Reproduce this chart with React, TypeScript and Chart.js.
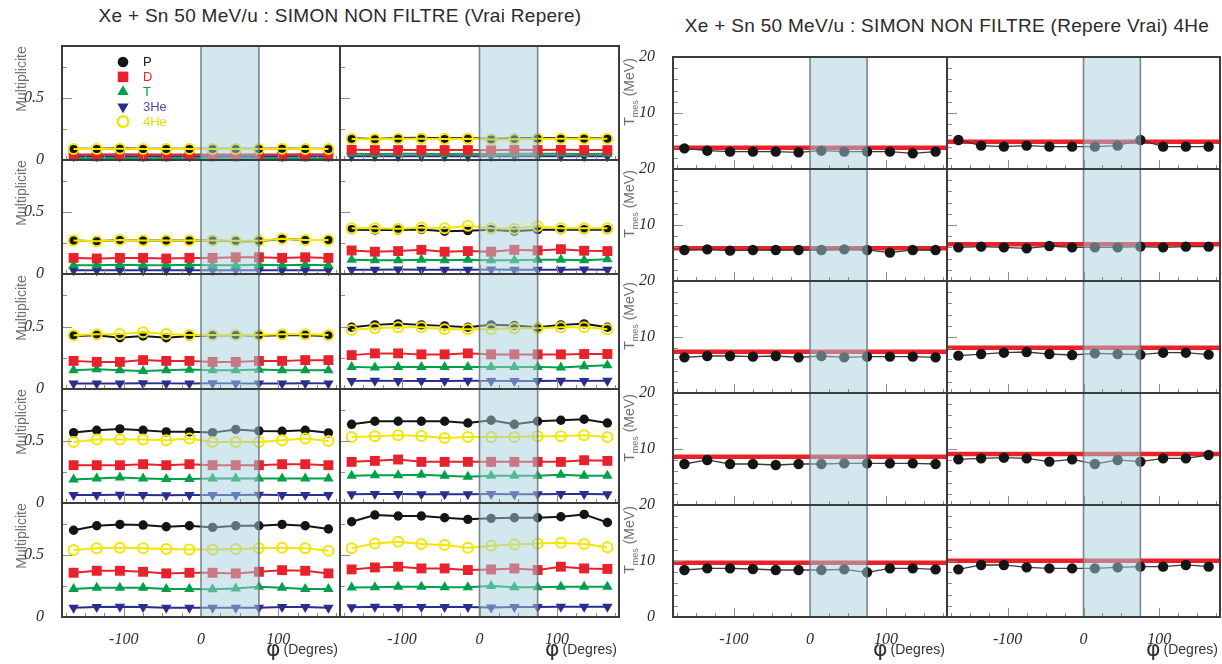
import React, { useEffect, useRef } from "react";
import { Chart, registerables } from "chart.js";
Chart.register(...registerables);

// ---------- data ----------
const PHI = [-165, -135, -105, -75, -45, -15, 15, 45, 75, 105, 135, 165];
const BAND = [0, 75];
const X_TICK_VALUES = [-175, -150, -125, -100, -75, -50, -25, 0, 25, 50, 75, 100, 125, 150, 175];
const X_MAJOR = [-100, 0, 100];
const MULT_Y_TICKS = [0.25, 0.5, 0.75];
const TEMP_Y_TICKS = [2, 4, 6, 8, 10, 12, 14, 16, 18];

const SPECIES = ["P", "D", "T", "3He", "4He"];

// Multiplicities (rows top -> bottom), left column ("A") and right column ("B")
const MULT_P_A = [
  [0.09, 0.09, 0.095, 0.09, 0.09, 0.09, 0.09, 0.09, 0.09, 0.092, 0.09, 0.09],
  [0.27, 0.265, 0.275, 0.27, 0.27, 0.27, 0.27, 0.265, 0.265, 0.285, 0.275, 0.275],
  [0.424, 0.43, 0.41, 0.424, 0.41, 0.424, 0.427, 0.432, 0.427, 0.43, 0.43, 0.424],
  [0.568, 0.587, 0.598, 0.587, 0.574, 0.574, 0.568, 0.593, 0.582, 0.579, 0.587, 0.566],
  [0.7, 0.736, 0.747, 0.742, 0.728, 0.736, 0.723, 0.736, 0.736, 0.747, 0.736, 0.71],
];
const MULT_P_B = [
  [0.175, 0.17, 0.177, 0.18, 0.175, 0.178, 0.17, 0.175, 0.177, 0.177, 0.175, 0.175],
  [0.358, 0.355, 0.355, 0.36, 0.345, 0.35, 0.358, 0.345, 0.358, 0.358, 0.358, 0.358],
  [0.494, 0.513, 0.521, 0.513, 0.505, 0.494, 0.513, 0.508, 0.494, 0.513, 0.521, 0.494],
  [0.635, 0.66, 0.66, 0.66, 0.66, 0.646, 0.668, 0.635, 0.66, 0.668, 0.676, 0.646],
  [0.769, 0.823, 0.815, 0.815, 0.801, 0.788, 0.796, 0.801, 0.801, 0.809, 0.828, 0.763],
];
const MULT_D_A = [
  [0.045, 0.045, 0.046, 0.045, 0.045, 0.045, 0.044, 0.045, 0.045, 0.045, 0.046, 0.045],
  [0.13, 0.125, 0.13, 0.13, 0.125, 0.13, 0.13, 0.135, 0.135, 0.13, 0.135, 0.13],
  [0.225, 0.217, 0.217, 0.231, 0.225, 0.225, 0.217, 0.217, 0.225, 0.225, 0.231, 0.231],
  [0.305, 0.305, 0.305, 0.313, 0.305, 0.313, 0.305, 0.305, 0.305, 0.313, 0.313, 0.305],
  [0.357, 0.373, 0.373, 0.365, 0.352, 0.357, 0.357, 0.352, 0.365, 0.378, 0.373, 0.352],
];
const MULT_D_B = [
  [0.082, 0.08, 0.08, 0.08, 0.08, 0.08, 0.078, 0.082, 0.08, 0.082, 0.08, 0.08],
  [0.19, 0.18, 0.185, 0.195, 0.18, 0.185, 0.18, 0.195, 0.19, 0.2, 0.188, 0.185],
  [0.271, 0.285, 0.285, 0.277, 0.277, 0.285, 0.277, 0.277, 0.277, 0.277, 0.28, 0.28],
  [0.332, 0.34, 0.351, 0.332, 0.332, 0.332, 0.332, 0.332, 0.332, 0.332, 0.345, 0.34],
  [0.384, 0.4, 0.406, 0.392, 0.392, 0.379, 0.384, 0.392, 0.379, 0.406, 0.392, 0.388],
];
const MULT_T_A = [
  [0.016, 0.015, 0.016, 0.015, 0.015, 0.016, 0.015, 0.015, 0.016, 0.015, 0.015, 0.015],
  [0.07, 0.07, 0.075, 0.07, 0.07, 0.075, 0.07, 0.07, 0.075, 0.07, 0.075, 0.07],
  [0.15, 0.158, 0.15, 0.145, 0.15, 0.155, 0.15, 0.15, 0.155, 0.15, 0.15, 0.15],
  [0.19, 0.197, 0.205, 0.197, 0.193, 0.193, 0.197, 0.197, 0.197, 0.197, 0.197, 0.197],
  [0.226, 0.237, 0.237, 0.237, 0.226, 0.226, 0.223, 0.23, 0.245, 0.237, 0.226, 0.226],
];
const MULT_T_B = [
  [0.05, 0.048, 0.05, 0.05, 0.048, 0.05, 0.048, 0.05, 0.05, 0.05, 0.048, 0.05],
  [0.115, 0.11, 0.11, 0.115, 0.11, 0.115, 0.11, 0.11, 0.115, 0.115, 0.11, 0.12],
  [0.177, 0.172, 0.177, 0.177, 0.177, 0.177, 0.177, 0.177, 0.177, 0.172, 0.182, 0.19],
  [0.219, 0.224, 0.224, 0.228, 0.219, 0.211, 0.219, 0.219, 0.219, 0.228, 0.219, 0.219],
  [0.239, 0.241, 0.245, 0.245, 0.241, 0.241, 0.25, 0.241, 0.241, 0.245, 0.245, 0.245],
];
const MULT_HE3_A = [
  [0.03, 0.03, 0.031, 0.03, 0.03, 0.03, 0.03, 0.03, 0.03, 0.031, 0.03, 0.03],
  [0.03, 0.03, 0.031, 0.03, 0.03, 0.031, 0.03, 0.03, 0.031, 0.03, 0.031, 0.03],
  [0.045, 0.045, 0.045, 0.046, 0.045, 0.045, 0.046, 0.045, 0.045, 0.045, 0.046, 0.045],
  [0.065, 0.065, 0.066, 0.065, 0.062, 0.065, 0.065, 0.065, 0.066, 0.065, 0.065, 0.065],
  [0.075, 0.08, 0.083, 0.08, 0.075, 0.075, 0.075, 0.075, 0.075, 0.08, 0.08, 0.075],
];
const MULT_HE3_B = [
  [0.03, 0.03, 0.03, 0.031, 0.03, 0.03, 0.03, 0.03, 0.031, 0.03, 0.03, 0.03],
  [0.035, 0.035, 0.036, 0.035, 0.035, 0.035, 0.036, 0.035, 0.035, 0.035, 0.036, 0.035],
  [0.065, 0.066, 0.065, 0.065, 0.065, 0.066, 0.065, 0.065, 0.065, 0.066, 0.065, 0.066],
  [0.07, 0.072, 0.072, 0.07, 0.07, 0.07, 0.072, 0.07, 0.07, 0.072, 0.072, 0.07],
  [0.078, 0.083, 0.08, 0.08, 0.08, 0.08, 0.076, 0.08, 0.08, 0.083, 0.083, 0.083],
];
const MULT_HE4_A = [
  [0.088, 0.088, 0.09, 0.088, 0.088, 0.088, 0.088, 0.088, 0.088, 0.09, 0.088, 0.088],
  [0.27, 0.265, 0.275, 0.27, 0.27, 0.27, 0.27, 0.268, 0.268, 0.285, 0.275, 0.275],
  [0.43, 0.438, 0.44, 0.454, 0.44, 0.432, 0.432, 0.432, 0.432, 0.438, 0.438, 0.432],
  [0.493, 0.512, 0.512, 0.512, 0.506, 0.52, 0.493, 0.493, 0.493, 0.506, 0.52, 0.501],
  [0.54, 0.554, 0.559, 0.554, 0.548, 0.545, 0.545, 0.548, 0.554, 0.559, 0.554, 0.535],
];
const MULT_HE4_B = [
  [0.17, 0.168, 0.172, 0.172, 0.17, 0.172, 0.165, 0.168, 0.172, 0.172, 0.172, 0.172],
  [0.37, 0.37, 0.365, 0.375, 0.37, 0.39, 0.37, 0.365, 0.385, 0.37, 0.37, 0.37],
  [0.473, 0.486, 0.494, 0.494, 0.478, 0.478, 0.478, 0.486, 0.486, 0.494, 0.494, 0.478],
  [0.533, 0.538, 0.547, 0.541, 0.525, 0.533, 0.533, 0.533, 0.538, 0.538, 0.547, 0.533],
  [0.554, 0.594, 0.608, 0.589, 0.581, 0.559, 0.575, 0.586, 0.594, 0.599, 0.589, 0.562],
];

// 4He measured temperatures (MeV), rows top -> bottom
const TEMP_A = [
  [3.69, 3.27, 3.1, 3.1, 3.1, 2.98, 3.27, 3.1, 3.1, 3.1, 2.8, 3.1],
  [5.54, 5.65, 5.42, 5.54, 5.54, 5.54, 5.54, 5.65, 5.54, 5.06, 5.54, 5.54],
  [6.37, 6.61, 6.61, 6.49, 6.61, 6.37, 6.61, 6.37, 6.49, 6.49, 6.49, 6.37],
  [7.32, 8.04, 7.32, 7.32, 7.14, 7.32, 7.32, 7.44, 7.44, 7.44, 7.44, 7.32],
  [8.39, 8.69, 8.69, 8.57, 8.39, 8.39, 8.39, 8.51, 7.98, 8.69, 8.69, 8.51],
];
const TEMP_B = [
  [5.18, 4.17, 3.99, 4.17, 3.99, 3.99, 3.99, 4.17, 5.18, 3.99, 3.99, 3.99],
  [6.01, 6.13, 6.01, 5.83, 6.25, 6.01, 6.01, 6.01, 6.13, 6.01, 6.13, 6.13],
  [6.67, 6.96, 7.2, 7.32, 6.96, 6.79, 7.08, 6.96, 6.85, 7.2, 7.2, 6.85],
  [8.15, 8.33, 8.45, 8.33, 7.74, 8.15, 7.32, 8.04, 7.74, 8.33, 8.33, 8.93],
  [8.51, 9.29, 9.29, 8.87, 8.69, 8.69, 8.69, 8.87, 8.99, 8.99, 9.29, 8.99],
];
const FIT_A = [3.8, 5.83, 7.38, 8.63, 9.7];
const FIT_B = [4.88, 6.55, 8.1, 9.1, 10.06];

// ---------- styles ----------
type SpStyle = { color: string; text: string; pointStyle: string; radius: number; rotation: number; open: boolean };
const STYLE: Record<string, SpStyle> = {
  P: { color: "#141414", text: "#141414", pointStyle: "circle", radius: 4.7, rotation: 0, open: false },
  D: { color: "#e8222d", text: "#e8222d", pointStyle: "rect", radius: 7, rotation: 0, open: false },
  T: { color: "#00a04a", text: "#00a04a", pointStyle: "triangle", radius: 6, rotation: 0, open: false },
  "3He": { color: "#2a2d8e", text: "#4a4cae", pointStyle: "triangle", radius: 6, rotation: 180, open: false },
  "4He": { color: "#f3e600", text: "#e8dc00", pointStyle: "circle", radius: 5, rotation: 0, open: true },
};

const MULT_TOP = 46, MULT_BOTTOM = 617;
const MULT_COLS = [[62, 340], [340, 619]];
const TEMP_TOP = 57, TEMP_BOTTOM = 617;
const TEMP_COLS = [[673, 947], [947, 1220]];

type Panel = { kind: "mult" | "temp"; row: number; col: number; left: number; top: number; width: number; height: number };

function buildPanels(): Panel[] {
  const out: Panel[] = [];
  for (let r = 0; r < 5; r++) {
    for (let c = 0; c < 2; c++) {
      const t = Math.round(MULT_TOP + ((MULT_BOTTOM - MULT_TOP) * r) / 5);
      const b = Math.round(MULT_TOP + ((MULT_BOTTOM - MULT_TOP) * (r + 1)) / 5);
      out.push({ kind: "mult", row: r, col: c, left: MULT_COLS[c][0], top: t, width: MULT_COLS[c][1] - MULT_COLS[c][0], height: b - t });
    }
  }
  for (let r = 0; r < 5; r++) {
    for (let c = 0; c < 2; c++) {
      const t = Math.round(TEMP_TOP + ((TEMP_BOTTOM - TEMP_TOP) * r) / 5);
      const b = Math.round(TEMP_TOP + ((TEMP_BOTTOM - TEMP_TOP) * (r + 1)) / 5);
      out.push({ kind: "temp", row: r, col: c, left: TEMP_COLS[c][0], top: t, width: TEMP_COLS[c][1] - TEMP_COLS[c][0], height: b - t });
    }
  }
  return out;
}
const PANELS = buildPanels();
const ext = (p: Panel) => ({ l: p.col === 0 ? 60 : 8, r: 8, t: 8, b: p.row === 4 ? 30 : 8 });

function drawMarker(ctx: CanvasRenderingContext2D, s: SpStyle, x: number, y: number, r: number) {
  ctx.save();
  ctx.beginPath();
  if (s.pointStyle === "circle") {
    ctx.arc(x, y, r, 0, Math.PI * 2);
  } else if (s.pointStyle === "rect") {
    const h = r * Math.SQRT1_2;
    ctx.rect(x - h, y - h, 2 * h, 2 * h);
  } else {
    let rad = (s.rotation * Math.PI) / 180;
    ctx.moveTo(x + Math.sin(rad) * r, y - Math.cos(rad) * r);
    rad += (2 * Math.PI) / 3;
    ctx.lineTo(x + Math.sin(rad) * r, y - Math.cos(rad) * r);
    rad += (2 * Math.PI) / 3;
    ctx.lineTo(x + Math.sin(rad) * r, y - Math.cos(rad) * r);
    ctx.closePath();
  }
  if (s.open) {
    ctx.lineWidth = 2.4;
    ctx.strokeStyle = s.color;
    ctx.stroke();
  } else {
    ctx.fillStyle = s.color;
    ctx.fill();
  }
  ctx.restore();
}

const panelPlugin = {
  id: "panelFrame",
  afterDatasetsDraw(chart: any, _args: any, opts: any) {
    const { ctx, chartArea: a } = chart;
    const xs = chart.scales.x, ys = chart.scales.y;
    ctx.save();
    // shaded band
    const b0 = xs.getPixelForValue(BAND[0]);
    const b1 = xs.getPixelForValue(BAND[1]);
    ctx.fillStyle = "rgba(166,207,221,0.5)";
    ctx.fillRect(b0, a.top, b1 - b0, a.bottom - a.top);
    ctx.strokeStyle = "rgba(105,115,120,0.85)";
    ctx.lineWidth = 1.6;
    for (const px of [b0, b1]) {
      ctx.beginPath();
      ctx.moveTo(px, a.top);
      ctx.lineTo(px, a.bottom);
      ctx.stroke();
    }
    // inward ticks
    ctx.strokeStyle = "#8c8c8c";
    ctx.lineWidth = 1;
    for (const v of X_TICK_VALUES) {
      const px = Math.round(xs.getPixelForValue(v)) + 0.5;
      const len = X_MAJOR.includes(v) ? 9 : 4;
      ctx.beginPath();
      ctx.moveTo(px, a.bottom);
      ctx.lineTo(px, a.bottom - len);
      ctx.stroke();
    }
    for (const v of opts.yTicks) {
      const py = Math.round(ys.getPixelForValue(v)) + 0.5;
      const len = v === opts.yMajor ? 10 : 5;
      ctx.beginPath();
      ctx.moveTo(a.left, py);
      ctx.lineTo(a.left + len, py);
      ctx.stroke();
    }
    // frame
    ctx.strokeStyle = "#3c3c3c";
    ctx.lineWidth = 2;
    ctx.strokeRect(a.left, a.top, a.right - a.left, a.bottom - a.top);
    // legend
    if (opts.legend) {
      ctx.font = "13px 'Liberation Sans', Arial, sans-serif";
      ctx.textBaseline = "middle";
      ctx.textAlign = "left";
      SPECIES.forEach((sp, i) => {
        const s = STYLE[sp];
        const y = a.top + 16 + i * 14.9;
        drawMarker(ctx, s, a.left + 61, y, s.pointStyle === "rect" ? 7.5 : s.pointStyle === "triangle" ? 6.5 : 5.3);
        ctx.fillStyle = s.text;
        ctx.fillText(sp, a.left + 81, y + 0.5);
      });
    }
    ctx.restore();
  },
};

const MULT_SERIES_A: Record<string, number[][]> = { P: MULT_P_A, D: MULT_D_A, T: MULT_T_A, "3He": MULT_HE3_A, "4He": MULT_HE4_A };
const MULT_SERIES_B: Record<string, number[][]> = { P: MULT_P_B, D: MULT_D_B, T: MULT_T_B, "3He": MULT_HE3_B, "4He": MULT_HE4_B };
const DRAW_ORDER = ["4He", "P", "D", "T", "3He"]; // first = on top

function makeConfig(p: Panel) {
  const e = ext(p);
  const isBottom = p.row === 4;
  const tickFont = { family: "'Liberation Serif', 'DejaVu Serif', serif", style: "italic" as const, size: 16 };
  let datasets: any[] = [];
  let yOpts: any;
  if (p.kind === "mult") {
    const src = p.col === 0 ? MULT_SERIES_A : MULT_SERIES_B;
    datasets = DRAW_ORDER.map((sp) => {
      const s = STYLE[sp];
      const vals = src[sp][p.row];
      return {
        label: sp,
        data: PHI.map((x, i) => ({ x, y: vals[i] })),
        borderColor: s.color,
        borderWidth: 2,
        pointStyle: s.pointStyle,
        pointRadius: s.radius,
        pointRotation: s.rotation,
        pointBackgroundColor: s.open ? "rgba(0,0,0,0)" : s.color,
        pointBorderColor: s.color,
        pointBorderWidth: s.open ? 2 : 0,
        tension: 0,
        clip: false,
      };
    });
    yOpts = { min: 0, max: 0.92, stepSize: 0.5, label: (v: number) => (v === 0 ? "0" : v === 0.5 ? "0.5" : "") };
  } else {
    const vals = (p.col === 0 ? TEMP_A : TEMP_B)[p.row];
    const fit = (p.col === 0 ? FIT_A : FIT_B)[p.row];
    datasets = [
      {
        label: "Tmes",
        data: PHI.map((x, i) => ({ x, y: vals[i] })),
        borderColor: "#3a3a3a",
        borderWidth: 1.3,
        pointRadius: 5.2,
        pointBackgroundColor: "#151515",
        pointBorderWidth: 0,
        tension: 0,
        clip: false,
      },
      {
        label: "fit",
        data: [
          { x: -180, y: fit },
          { x: 180, y: fit },
        ],
        borderColor: "#ea2129",
        borderWidth: 4.5,
        pointRadius: 0,
        tension: 0,
      },
    ];
    yOpts = { min: 0, max: 20, stepSize: 10, label: (v: number) => (v === 0 && !isBottom ? "" : String(v)) };
  }
  return {
    type: "line" as const,
    data: { datasets },
    plugins: [panelPlugin],
    options: {
      animation: false as const,
      responsive: false,
      maintainAspectRatio: false,
      events: [],
      layout: { padding: { left: 0, right: e.r, top: e.t, bottom: 0 } },
      plugins: {
        legend: { display: false },
        tooltip: { enabled: false },
        panelFrame: {
          yTicks: p.kind === "mult" ? MULT_Y_TICKS : TEMP_Y_TICKS,
          yMajor: p.kind === "mult" ? 0.5 : 10,
          legend: p.kind === "mult" && p.row === 0 && p.col === 0,
        },
      },
      scales: {
        x: {
          type: "linear" as const,
          min: -180,
          max: 180,
          grid: { display: false },
          border: { display: false },
          ticks: {
            display: isBottom,
            stepSize: 100,
            includeBounds: false,
            autoSkip: false,
            maxRotation: 0,
            padding: 5,
            color: "#2e2e2e",
            font: tickFont,
            callback: (v: any) => String(v),
          },
          afterFit: (s: any) => {
            s.height = e.b;
            s.paddingLeft = 0;
            s.paddingRight = 0;
            s.paddingTop = 0;
            s.paddingBottom = 0;
          },
        },
        y: {
          type: "linear" as const,
          min: yOpts.min,
          max: yOpts.max,
          grid: { display: false },
          border: { display: false },
          ticks: {
            display: p.col === 0,
            stepSize: yOpts.stepSize,
            includeBounds: false,
            autoSkip: false,
            padding: 10,
            color: "#2e2e2e",
            font: tickFont,
            callback: (v: any) => yOpts.label(Number(v)),
          },
          afterFit: (s: any) => {
            s.width = e.l;
            s.paddingLeft = 0;
            s.paddingRight = 0;
            s.paddingTop = 0;
            s.paddingBottom = 0;
          },
        },
      },
    },
  };
}

const sans = "'Liberation Sans', Arial, sans-serif";

export default function App() {
  const refs = useRef<(HTMLCanvasElement | null)[]>([]);
  useEffect(() => {
    const charts: Chart[] = [];
    PANELS.forEach((p, i) => {
      const c = refs.current[i];
      if (!c) return;
      charts.push(new Chart(c, makeConfig(p) as any));
    });
    return () => charts.forEach((ch) => ch.destroy());
  }, []);

  const rotated = (cx: number, cy: number, content: React.ReactNode, key: string, size: number) => (
    <div
      key={key}
      style={{
        position: "absolute",
        left: cx,
        top: cy,
        transform: "translate(-50%,-50%) rotate(-90deg)",
        whiteSpace: "nowrap",
        fontFamily: sans,
        fontSize: size,
        color: "#707070",
        lineHeight: 1,
      }}
    >
      {content}
    </div>
  );

  const phiLabel = (right: number, key: string) => (
    <div
      key={key}
      style={{
        position: "absolute",
        right: 1222 - right,
        top: 638,
        whiteSpace: "nowrap",
        fontFamily: sans,
        fontSize: 14,
        color: "#333",
        lineHeight: 1,
        display: "flex",
        alignItems: "center",
      }}
    >
      <span style={{ fontFamily: "'DejaVu Sans', sans-serif", fontSize: 22, marginRight: 3 }}>φ</span>
      <span>(Degres)</span>
    </div>
  );

  const titleStyle = {
    position: "absolute" as const,
    textAlign: "center" as const,
    fontFamily: sans,
    fontSize: 19,
    letterSpacing: 0.3,
    color: "#2a2a2a",
    lineHeight: 1.2,
    whiteSpace: "nowrap" as const,
  };

  return (
    <div style={{ position: "absolute", left: 0, top: 0, width: 1222, height: 664, background: "#fff", overflow: "hidden" }}>
      <div style={{ ...titleStyle, left: 0, width: 680, top: 5 }}>Xe + Sn 50 MeV/u : SIMON NON FILTRE (Vrai Repere)</div>
      <div style={{ ...titleStyle, left: 672, width: 550, top: 15 }}>Xe + Sn 50 MeV/u : SIMON NON FILTRE (Repere Vrai) 4He</div>
      {PANELS.map((p, i) => {
        const e = ext(p);
        return (
          <canvas
            key={i}
            ref={(el) => {
              refs.current[i] = el;
            }}
            width={p.width + e.l + e.r}
            height={p.height + e.t + e.b}
            style={{ position: "absolute", left: p.left - e.l, top: p.top - e.t, width: p.width + e.l + e.r, height: p.height + e.t + e.b }}
          />
        );
      })}
      {[0, 1, 2, 3, 4].map((r) => rotated(21, MULT_TOP + ((MULT_BOTTOM - MULT_TOP) * (r + 0.5)) / 5 - 24, "Multiplicite", "m" + r, 14))}
      {[0, 1, 2, 3, 4].map((r) =>
        rotated(
          631,
          TEMP_TOP + ((TEMP_BOTTOM - TEMP_TOP) * (r + 0.5)) / 5 - 21,
          <span>
            T<sub style={{ fontSize: 9, verticalAlign: "sub" }}>mes</sub> (MeV)
          </span>,
          "t" + r,
          14
        )
      )}
      {phiLabel(338, "f1")}
      {phiLabel(617, "f2")}
      {phiLabel(945, "f3")}
      {phiLabel(1218, "f4")}
    </div>
  );
}
